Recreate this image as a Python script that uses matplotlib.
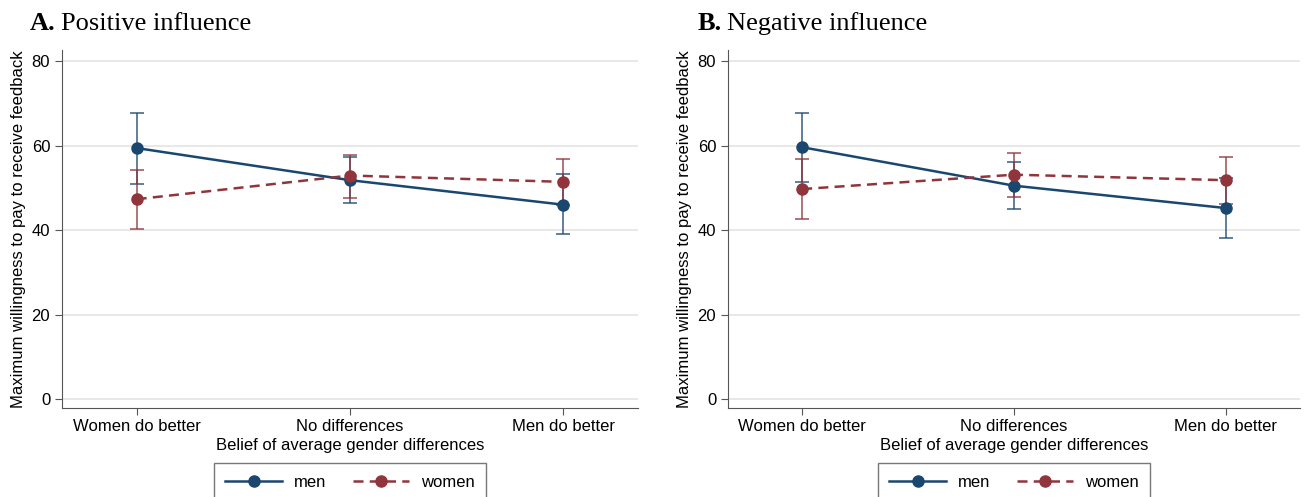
import numpy as np
import matplotlib.pyplot as plt

plt.rcParams['font.family'] = ['Liberation Sans', 'DejaVu Sans']

beliefs = ["Women do better", "No differences", "Men do better"]
panels = ["Positive influence", "Negative influence"]
letters = ["A.", "B."]

# panel A: point estimates with 95% CI bounds
pos_men = [59.4, 51.8, 46.0]
pos_men_lo = [51.0, 46.4, 39.0]
pos_men_hi = [67.7, 57.4, 53.2]
pos_women = [47.3, 52.9, 51.4]
pos_women_lo = [40.3, 47.7, 46.0]
pos_women_hi = [54.2, 57.8, 56.8]

# panel B
neg_men = [59.6, 50.5, 45.2]
neg_men_lo = [51.3, 44.9, 38.1]
neg_men_hi = [67.8, 56.2, 52.3]
neg_women = [49.7, 53.1, 51.8]
neg_women_lo = [42.7, 47.9, 46.2]
neg_women_hi = [56.7, 58.2, 57.4]

navy = "#1a476f"
maroon = "#90353b"

data = [
    (pos_men, pos_men_lo, pos_men_hi, pos_women, pos_women_lo, pos_women_hi),
    (neg_men, neg_men_lo, neg_men_hi, neg_women, neg_women_lo, neg_women_hi),
]

W, H = 1307, 497
fig = plt.figure(figsize=(W / 100, H / 100), dpi=100)
axes = [fig.add_axes([62 / W, 1 - 408 / H, 576 / W, 358 / H]),
        fig.add_axes([728 / W, 1 - 408 / H, 572 / W, 358 / H])]
title_x = [30 / W, 698 / W]

x = np.arange(len(beliefs))
for ax, d, letter, name, tx in zip(axes, data, letters, panels, title_x):
    m, mlo, mhi, w, wlo, whi = d
    m, w = np.array(m), np.array(w)
    ax.errorbar(x, m, yerr=[m - np.array(mlo), np.array(mhi) - m], fmt="none",
                ecolor=navy, alpha=0.75, elinewidth=1.3, capsize=5, capthick=1.3, zorder=2)
    ax.errorbar(x, w, yerr=[w - np.array(wlo), np.array(whi) - w], fmt="none",
                ecolor=maroon, alpha=0.75, elinewidth=1.3, capsize=5, capthick=1.3, zorder=2)
    ax.plot(x, m, "-o", color=navy, lw=1.8, ms=8, label="men", zorder=3)
    ax.plot(x, w, "--o", color=maroon, lw=1.8, ms=8, dashes=(4, 2.5), label="women", zorder=4)

    ax.set_xlim(-0.35, 2.35)
    ax.set_ylim(-2.1, 82.6)
    ax.set_yticks([0, 20, 40, 60, 80])
    ax.set_xticks(x)
    ax.set_xticklabels(beliefs)
    ax.yaxis.grid(True, color="#e4e4e4", lw=1.2)
    ax.set_axisbelow(True)
    for s in ["top", "right"]:
        ax.spines[s].set_visible(False)
    for s in ["left", "bottom"]:
        ax.spines[s].set_color("#555555")
    ax.tick_params(colors="#555555", labelcolor="black", labelsize=12, length=5)
    ax.tick_params(axis="x", pad=3)
    ax.set_ylabel("Maximum willingness to pay to receive feedback", fontsize=12, labelpad=4)
    ax.set_xlabel("Belief of average gender differences", fontsize=12, labelpad=2.5)

    # panel heading: bold letter followed by plain text
    t = fig.text(tx, 1 - 30 / H, letter, fontsize=19, family="Liberation Serif",
                 fontweight="bold", ha="left", va="baseline")
    fig.canvas.draw()
    bb = t.get_window_extent()
    fig.text((bb.x1 + 5) / fig.bbox.width, 1 - 30 / H, name, fontsize=19,
             family="Liberation Serif", ha="left", va="baseline")

    leg = ax.legend(loc="upper center", bbox_to_anchor=(0.5, -0.13), ncol=2,
                    fontsize=12, frameon=True, fancybox=False, edgecolor="#555555",
                    handlelength=3.4, handletextpad=0.7, columnspacing=1.6,
                    borderpad=0.7)
    leg.get_frame().set_linewidth(1.0)

fig.savefig("out.png", dpi=100)
